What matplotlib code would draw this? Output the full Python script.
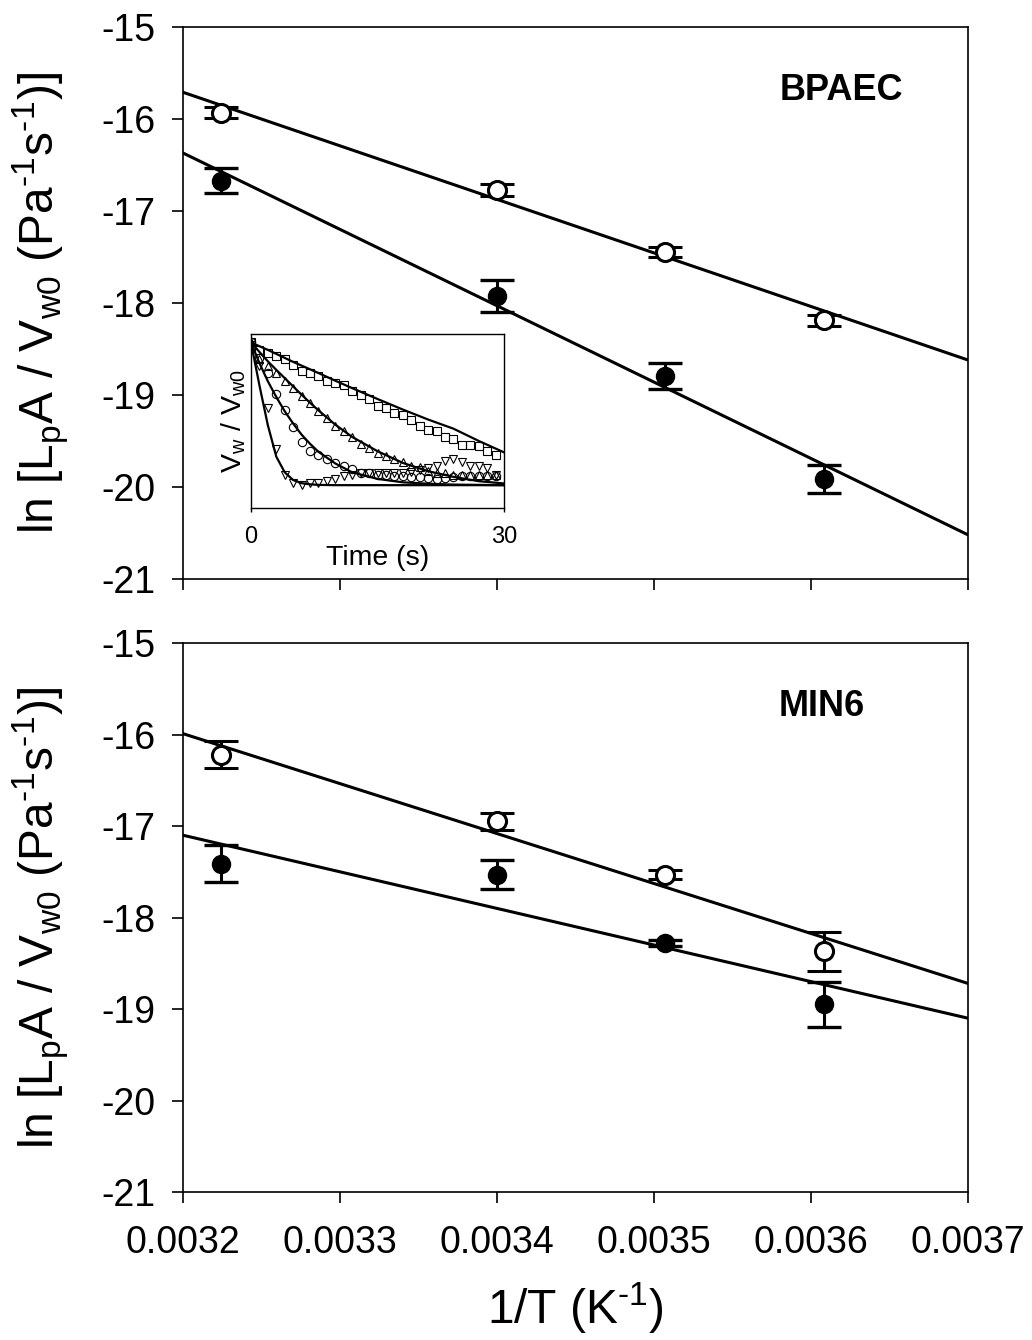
import numpy as np
import matplotlib.pyplot as plt

plt.rcParams['font.family'] = ['Liberation Sans', 'DejaVu Sans']
plt.rcParams['mathtext.fontset'] = 'custom'
plt.rcParams['mathtext.rm'] = 'Liberation Sans'
plt.rcParams['mathtext.it'] = 'Liberation Sans'
plt.rcParams['axes.unicode_minus'] = False

# 1/T for 37, 21, 12 and 4 C
inv_T = [0.003224, 0.003400, 0.003507, 0.003608]
fit_x = [0.0032, 0.0037]

# BPAEC
bp_open = [-15.93, -16.77, -17.45, -18.19]
bp_open_err = [0.065, 0.065, 0.055, 0.055]
bp_fill = [-16.67, -17.92, -18.79, -19.91]
bp_fill_err = [0.14, 0.175, 0.14, 0.15]
bp_open_fit = [-15.71, -18.62]
bp_fill_fit = [-16.37, -20.52]

# MIN6
mn_open = [-16.22, -16.95, -17.53, -18.37]
mn_open_err = [0.15, 0.09, 0.045, 0.21]
mn_fill = [-17.41, -17.53, -18.28, -18.95]
mn_fill_err = [0.205, 0.155, 0.03, 0.25]
mn_open_fit = [-15.99, -18.72]
mn_fill_fit = [-17.10, -19.10]

# inset: normalised water volume vs time
t_pts = list(range(0, 30))
v_square = [1.0, 0.972, 0.963, 0.951, 0.942, 0.922, 0.901, 0.893, 0.881, 0.866,
            0.858, 0.850, 0.829, 0.817, 0.802, 0.778, 0.770, 0.753, 0.747, 0.729,
            0.709, 0.695, 0.689, 0.669, 0.662, 0.642, 0.642, 0.639, 0.621, 0.607]
v_tri_up = [1.0, 0.942, 0.916, 0.893, 0.864, 0.840, 0.814, 0.788, 0.761, 0.735,
            0.709, 0.689, 0.669, 0.645, 0.631, 0.613, 0.601, 0.590, 0.580, 0.566,
            0.564, 0.549, 0.543, 0.541, 0.537, 0.536, 0.535, 0.535, 0.534, 0.534]
v_circle = [1.0, 0.945, 0.893, 0.821, 0.762, 0.704, 0.650, 0.619, 0.604, 0.590,
            0.576, 0.566, 0.555, 0.543, 0.541, 0.537, 0.534, 0.531, 0.531, 0.529,
            0.528, 0.526, 0.522, 0.524, 0.529, 0.531, 0.531, 0.531, 0.531, 0.531]
v_tri_down = [0.992, 0.916, 0.770, 0.625, 0.537, 0.508, 0.502, 0.506, 0.508, 0.514,
              0.522, 0.531, 0.537, 0.541, 0.541, 0.541, 0.541, 0.543, 0.543, 0.545,
              0.552, 0.561, 0.566, 0.584, 0.592, 0.580, 0.566, 0.566, 0.561, 0.537]

t_fit = [0, 1, 2, 3, 4, 5, 6, 7, 8, 10, 12, 15, 18, 21, 24, 27, 30]
fit_square = [1.0, 0.987, 0.974, 0.960, 0.946, 0.932, 0.919, 0.906, 0.893, 0.866,
              0.840, 0.802, 0.765, 0.730, 0.698, 0.655, 0.615]
fit_tri_up = [1.0, 0.967, 0.934, 0.904, 0.875, 0.846, 0.817, 0.789, 0.762, 0.712,
              0.669, 0.619, 0.578, 0.549, 0.529, 0.514, 0.506]
fit_circle = [1.0, 0.928, 0.864, 0.809, 0.759, 0.716, 0.677, 0.645, 0.617, 0.576,
              0.545, 0.522, 0.510, 0.505, 0.502, 0.501, 0.500]
fit_tri_down = [1.0, 0.85, 0.71, 0.60, 0.545, 0.518, 0.507, 0.503, 0.501, 0.500,
                0.500, 0.500, 0.500, 0.500, 0.500, 0.500, 0.500]

fig = plt.figure(figsize=(10.32, 13.40), dpi=100)
ax1 = fig.add_axes([0.1773, 0.5679, 0.7607, 0.4120])
ax2 = fig.add_axes([0.1773, 0.1104, 0.7607, 0.4097])

ylab = (r'ln [L$_{\mathrm{p}}$A / V$_{\mathrm{w0}}$ '
        r'(Pa$^{\text{-}\mathrm{1}}$s$^{\text{-}\mathrm{1}}$)]')


def panel(ax, yo, eo, yf, ef, fo, ff, name, name_xy):
    ax.plot(fit_x, fo, color='black', lw=2.2, zorder=1)
    ax.plot(fit_x, ff, color='black', lw=2.2, zorder=1)
    ax.errorbar(inv_T, yf, yerr=ef, fmt='o', ms=13, mfc='black', mec='black',
                ecolor='black', elinewidth=2.2, capsize=12, capthick=2.4, zorder=3)
    ax.errorbar(inv_T, yo, yerr=eo, fmt='o', ms=13, mfc='white', mec='black',
                mew=2.2, ecolor='black', elinewidth=2.2, capsize=12, capthick=2.4,
                zorder=3)
    ax.set_xlim(0.0032, 0.0037)
    ax.set_ylim(-21, -15)
    ax.set_xticks([0.0032, 0.0033, 0.0034, 0.0035, 0.0036, 0.0037])
    ax.set_yticks([-21, -20, -19, -18, -17, -16, -15])
    ax.tick_params(direction='out', length=8, width=1.2, labelsize=27,
                   top=False, right=False)
    ax.tick_params(axis='y', pad=12)
    ax.tick_params(axis='x', pad=16)
    for s in ax.spines.values():
        s.set_linewidth(1.2)
    ax.set_ylabel(ylab, fontsize=34.5, labelpad=22)
    ax.text(name_xy[0], name_xy[1], name, fontsize=26, fontweight='bold',
            ha='center', va='center', transform=ax.transAxes)


panel(ax1, bp_open, bp_open_err, bp_fill, bp_fill_err, bp_open_fit, bp_fill_fit,
      'BPAEC', (0.839, 0.885))
panel(ax2, mn_open, mn_open_err, mn_fill, mn_fill_err, mn_open_fit, mn_fill_fit,
      'MIN6', (0.813, 0.885))
ax1.tick_params(labelbottom=False)
ax2.set_xticklabels(['0.0032', '0.0033', '0.0034', '0.0035', '0.0036', '0.0037'])
ax2.set_xlabel(r'1/T (K$^{\text{-}\mathrm{1}}$)', fontsize=34.5, labelpad=14)

# inset
ins = fig.add_axes([0.2432, 0.6209, 0.2452, 0.1299])
mk = dict(ls='none', mfc='none', mec='black', mew=0.8, ms=6)
ins.plot(t_pts, v_square, marker='s', **mk)
ins.plot(t_pts, v_tri_up, marker='^', **mk)
ins.plot(t_pts, v_circle, marker='o', **mk)
ins.plot(t_pts, v_tri_down, marker='v', **mk)
for fy in (fit_square, fit_tri_up, fit_circle, fit_tri_down):
    ins.plot(t_fit, fy, color='black', lw=1.6)
ins.set_xlim(0, 30)
ins.set_ylim(0.42, 1.03)
ins.set_xticks([0, 30])
ins.set_yticks([])
ins.tick_params(direction='out', length=3, width=1, labelsize=17, pad=10)
for s in ins.spines.values():
    s.set_linewidth(1.0)
ins.set_xlabel('Time (s)', fontsize=20.5, labelpad=-2)
ins.set_ylabel(r'V$_{\mathrm{w}}$ / V$_{\mathrm{w0}}$', fontsize=20.5, labelpad=2)

fig.savefig('out.png', dpi=100)
